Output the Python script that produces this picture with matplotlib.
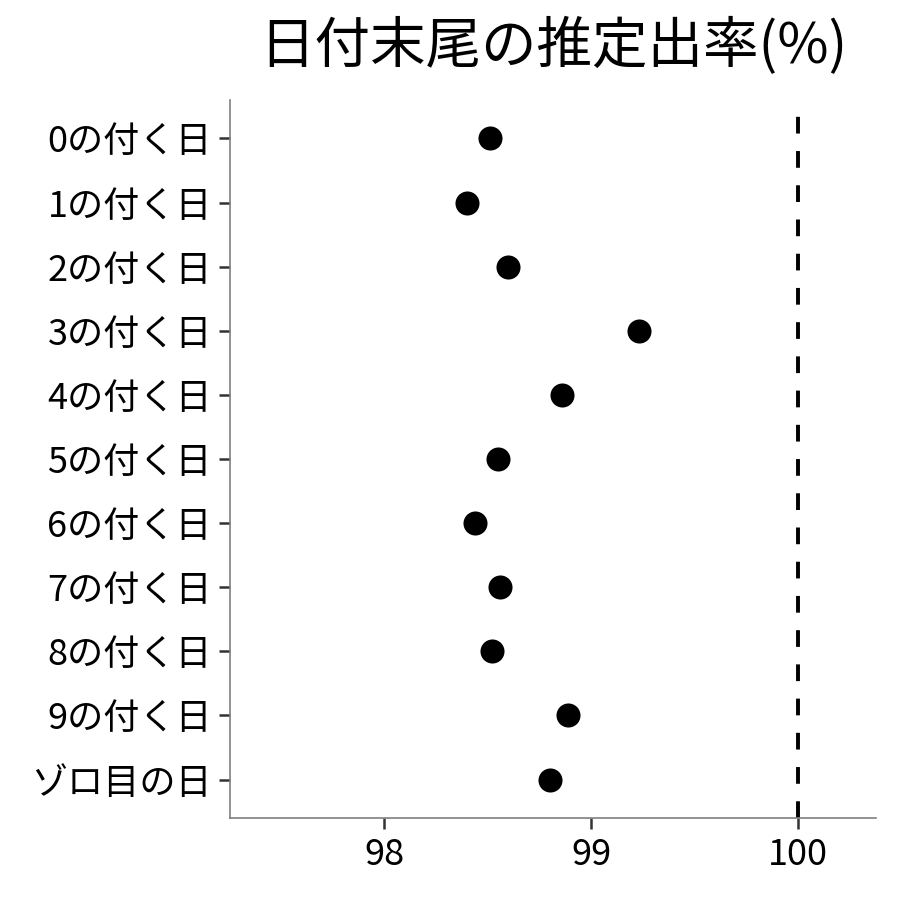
import matplotlib
matplotlib.use("Agg")
import matplotlib.pyplot as plt

plt.rcParams["font.family"] = ["Noto Sans CJK JP", "DejaVu Sans"]

# data
labels = ["0の付く日", "1の付く日", "2の付く日", "3の付く日", "4の付く日",
          "5の付く日", "6の付く日", "7の付く日", "8の付く日", "9の付く日",
          "ゾロ目の日"]
rates = [98.51, 98.40, 98.60, 99.23, 98.86, 98.55, 98.44, 98.56, 98.52, 98.89, 98.80]
xticks = [98, 99, 100]
ref_line = 100

fig = plt.figure(figsize=(9, 9), dpi=100)
ax = fig.add_axes([0.2556, 0.0911, 0.7178, 0.7978])

ypos = list(range(len(labels), 0, -1))
ax.scatter(rates, ypos, s=300, color="black", zorder=3, linewidths=0)
ax.axvline(ref_line, color="black", linestyle=(0, (4.3, 4.5)), linewidth=2.8)

ax.set_xlim(97.256, 100.377)
ax.set_ylim(0.4, len(labels) + 0.6)
ax.set_xticks(xticks)
ax.set_xticklabels([str(t) for t in xticks])
ax.set_yticks(ypos)
ax.set_yticklabels(labels)

for side in ("top", "right"):
    ax.spines[side].set_visible(False)
for side in ("left", "bottom"):
    ax.spines[side].set_color("#7f7f7f")
    ax.spines[side].set_linewidth(1.2)
ax.tick_params(axis="both", length=8, width=1.8, color="#333333",
               labelsize=26, labelcolor="black")
ax.tick_params(axis="x", pad=6)
ax.tick_params(axis="y", pad=5)

fig.text(0.6144, 0.948, "日付末尾の推定出率(%)", ha="center", va="center",
         fontsize=40, color="black")

fig.savefig("out.png", dpi=100, facecolor="white")
